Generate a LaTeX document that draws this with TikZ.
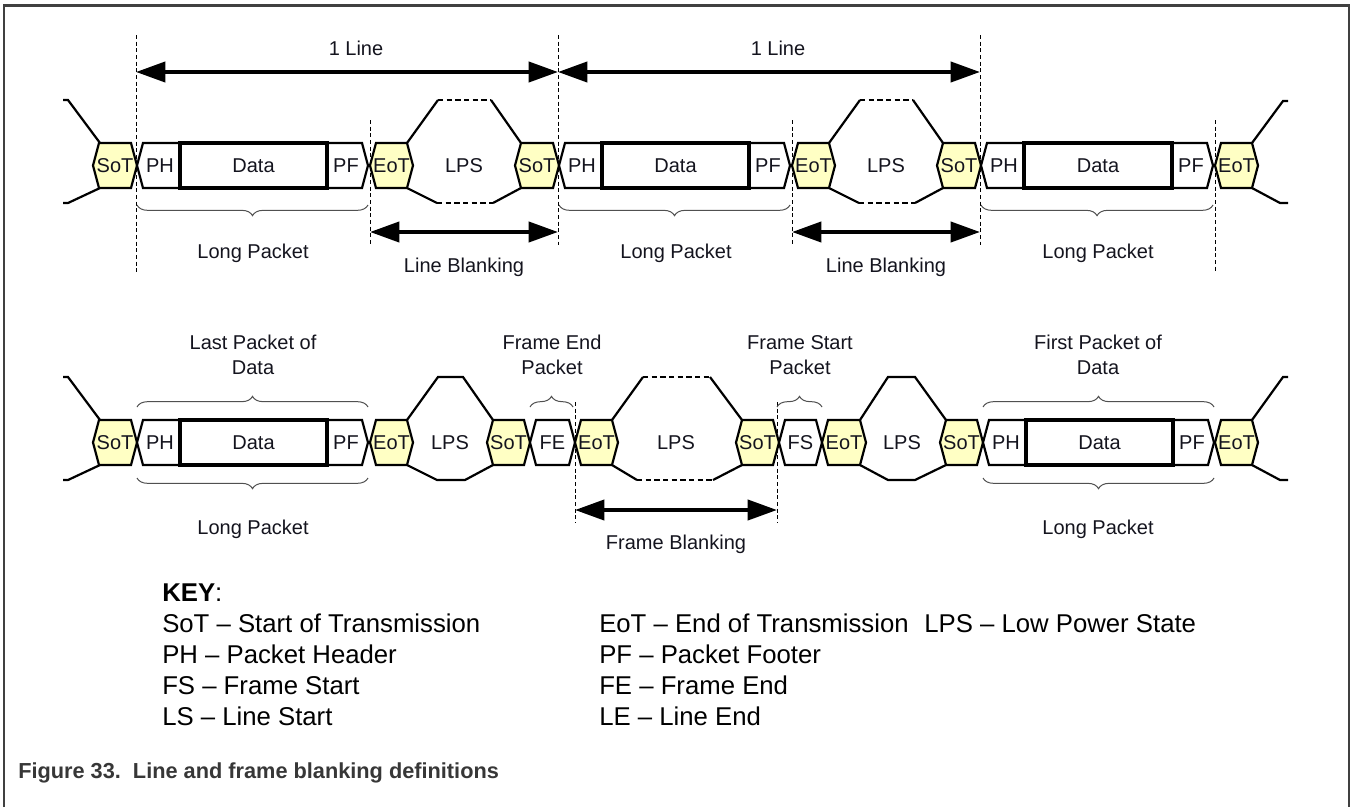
\documentclass[tikz,border=0pt]{standalone}
\usepackage{fontspec}
\setmainfont{Liberation Sans}
\usetikzlibrary{arrows.meta,decorations.pathreplacing}
\definecolor{hexfill}{RGB}{255,255,196}
\definecolor{framegray}{RGB}{64,64,64}
\definecolor{bracegray}{RGB}{80,80,80}
\definecolor{txt}{RGB}{20,20,30}
\definecolor{captxt}{RGB}{55,55,55}
\newcommand{\hexseg}[6]{%
  \draw[hexline,fill=#5] (#2,#4) -- ({#2+6},{#4-22.5}) -- ({#3-6},{#4-22.5}) -- (#3,#4) -- ({#3-6},{#4+22.5}) -- ({#2+6},{#4+22.5}) -- cycle;
  \node[lbl] (#1) at ({(#2+#3)/2},#4) {#6};
}
\newcommand{\pkt}[4]{%
  \draw[hexline,fill=white] (#2,#4) -- ({#2+6},{#4-22.5}) -- ({#3-6},{#4-22.5}) -- (#3,#4) -- ({#3-6},{#4+22.5}) -- ({#2+6},{#4+22.5}) -- cycle;
  \draw[databox] ({#2+43},{#4-22.5}) rectangle ({#3-41},{#4+22.5});
  \node[lbl] (#1ph) at ({#2+23},#4) {PH};
  \node[lbl] (#1data) at ({(#2+#3)/2+1},#4) {Data};
  \node[lbl] (#1pf) at ({#3-22},#4) {PF};
}
\begin{document}
\begin{tikzpicture}[x=0.75pt,y=-0.75pt,
  hexline/.style={line width=1.65pt,line join=miter},
  databox/.style={line width=2.6pt,fill=white},
  lpsdash/.style={dash pattern=on 4pt off 2.5pt},
  vdash/.style={line width=0.75pt,dash pattern=on 3pt off 2pt},
  brc/.style={draw=bracegray,line width=0.75pt,decorate,decoration={brace,amplitude=8pt}},
  dimarrow/.style={line width=3pt,{Triangle[length=22pt,width=15pt]}-{Triangle[length=22pt,width=15pt]}},
  lbl/.style={inner sep=0pt,font=\fontsize{15}{18.75}\selectfont,text=txt},
  twolbl/.style={lbl,align=center},
  keytxt/.style={inner sep=0pt,anchor=base west,font=\fontsize{19.3}{23}\selectfont,text=black},
]
\useasboundingbox (0,0) rectangle (1352,807);
\draw[framegray,line width=1.6pt] (4,807) -- (4,5.5) -- (1349,5.5) -- (1349,807);

\def\yt{165.5}
\def\yb{442.5}

% ---------- dashed guide lines ----------
\coordinate (t1a) at (136,35);   \coordinate (t1b) at (136,272);
\coordinate (t2a) at (370,120);  \coordinate (t2b) at (370,245);
\coordinate (t3a) at (558,35);   \coordinate (t3b) at (558,245);
\coordinate (t4a) at (792,120);  \coordinate (t4b) at (792,245);
\coordinate (t5a) at (980,35);   \coordinate (t5b) at (980,245);
\coordinate (t6a) at (1215,120); \coordinate (t6b) at (1215,272);
\coordinate (b1a) at (575,402);  \coordinate (b1b) at (575,523);
\coordinate (b2a) at (777,402);  \coordinate (b2b) at (777,523);
\foreach \n in {t1,t2,t3,t4,t5,t6,b1,b2} \draw[vdash] (\n a) -- (\n b);

% ---------- top row ----------
\draw[hexline] (63,100) -- (68,100) -- (100,143);
\draw[hexline] (63,203) -- (68,203) -- (100,188);
\foreach \k/\o in {A/0,B/422} {
  \draw[hexline] ({407+\o},143) -- ({438+\o},100);
  \draw[hexline,lpsdash] ({438+\o},100) -- ({491+\o},100);
  \draw[hexline] ({491+\o},100) -- ({521+\o},143);
  \draw[hexline] ({407+\o},188) -- ({437+\o},203);
  \draw[hexline,lpsdash] ({437+\o},203) -- ({493+\o},203);
  \draw[hexline] ({493+\o},203) -- ({521+\o},188);
  \node[lbl] (lps\k) at ({464+\o},\yt) {LPS};
}
\hexseg{sotA}{93}{137}{\yt}{hexfill}{SoT}
\pkt{pA}{137}{368}{\yt}
\hexseg{eotA}{370}{413}{\yt}{hexfill}{EoT}
\hexseg{sotB}{515}{559}{\yt}{hexfill}{SoT}
\pkt{pB}{559}{790}{\yt}
\hexseg{eotB}{792}{835}{\yt}{hexfill}{EoT}
\hexseg{sotC}{937}{981}{\yt}{hexfill}{SoT}
\pkt{pC}{981}{1213}{\yt}
\hexseg{eotC}{1215}{1258}{\yt}{hexfill}{EoT}
\draw[hexline] (1252,143) -- (1283,101) -- (1288,101);
\draw[hexline] (1252,188) -- (1280,203) -- (1288,203);

\draw[brc] (368,205) -- (137,205);
\draw[brc] (790,205) -- (559,205);
\draw[brc] (1213,205) -- (981,205);

\draw[dimarrow] (t1a |- 0,72) -- (t3a |- 0,72);
\draw[dimarrow] (t3a |- 0,72) -- (t5a |- 0,72);
\draw[dimarrow] (t2a |- 0,232) -- (t3a |- 0,232);
\draw[dimarrow] (t4a |- 0,232) -- (t5a |- 0,232);

\node[lbl] (line1) at (356,48) {1 Line};
\node[lbl] (line2) at (778,48) {1 Line};
\node[lbl] (lpk1) at (253,253) {Long Packet};
\node[lbl] (lpk2) at (676,253) {Long Packet};
\node[lbl] (lpk3) at (1098,253) {Long Packet};
\node[lbl] (lb1) at (464,267) {Line Blanking};
\node[lbl] (lb2) at (886,267) {Line Blanking};

% ---------- bottom row ----------
\draw[hexline] (63,377) -- (68,377) -- (100,420);
\draw[hexline] (63,480) -- (68,480) -- (100,465);
% LPS 1 (solid)
\draw[hexline] (407,420) -- (438,377) -- (463,377) -- (493,420);
\draw[hexline] (407,465) -- (437,480) -- (465,480) -- (493,465);
% LPS 2 (dashed top)
\draw[hexline] (612,420) -- (643,377);
\draw[hexline,lpsdash] (643,377) -- (710,377);
\draw[hexline] (710,377) -- (742,420);
\draw[hexline] (612,465) -- (637,480);
\draw[hexline,lpsdash] (637,480) -- (713,480);
\draw[hexline] (713,480) -- (742,465);
% LPS 3 (solid)
\draw[hexline] (860,420) -- (888,377) -- (915,377) -- (946,420);
\draw[hexline] (860,465) -- (888,480) -- (915,480) -- (946,465);
\node[lbl] (lpsD) at (450,\yb) {LPS};
\node[lbl] (lpsE) at (676,\yb) {LPS};
\node[lbl] (lpsF) at (902,\yb) {LPS};

\hexseg{sotD}{93}{137}{\yb}{hexfill}{SoT}
\pkt{pD}{137}{368}{\yb}
\hexseg{eotD}{370}{413}{\yb}{hexfill}{EoT}
\hexseg{sotE}{487}{530}{\yb}{hexfill}{SoT}
\hexseg{fe}{530}{575}{\yb}{white}{FE}
\hexseg{eotE}{575}{618}{\yb}{hexfill}{EoT}
\hexseg{sotF}{736}{779}{\yb}{hexfill}{SoT}
\hexseg{fs}{779}{822}{\yb}{white}{FS}
\hexseg{eotF}{822}{866}{\yb}{hexfill}{EoT}
\hexseg{sotG}{940}{983}{\yb}{hexfill}{SoT}
\pkt{pG}{983}{1214}{\yb}
\hexseg{eotG}{1215}{1258}{\yb}{hexfill}{EoT}
\draw[hexline] (1252,420) -- (1283,377) -- (1288,377);
\draw[hexline] (1252,465) -- (1280,480) -- (1288,480);

\draw[brc] (137,407) -- (368,407);
\draw[brc] (368,478) -- (137,478);
\draw[brc] (530,407) -- (573,407);
\draw[brc] (777,407) -- (822,407);
\draw[brc] (983,407) -- (1214,407);
\draw[brc] (1214,478) -- (983,478);

\draw[dimarrow] (b1a |- 0,510) -- (b2a |- 0,510);

\node[twolbl] (lastpk) at (253,355) {Last Packet of\\Data};
\node[twolbl] (fepk) at (552,355) {Frame End\\Packet};
\node[twolbl] (fspk) at (800,355) {Frame Start\\Packet};
\node[twolbl] (firstpk) at (1098,355) {First Packet of\\Data};
\node[lbl] (lpk4) at (253,529) {Long Packet};
\node[lbl] (lpk5) at (1098,529) {Long Packet};
\node[lbl] (fb) at (676,544) {Frame Blanking};

% ---------- key ----------
\node[keytxt] (key) at (162,601) {\textbf{KEY}:};
\node[keytxt] (k1) at (162,632) {SoT – Start of Transmission};
\node[keytxt] (k2) at (162,663) {PH – Packet Header};
\node[keytxt] (k3) at (162,694) {FS – Frame Start};
\node[keytxt] (k4) at (162,725) {LS – Line Start};
\node[keytxt] (k5) at (599,632) {EoT – End of Transmission};
\node[keytxt] (k6) at (599,663) {PF – Packet Footer};
\node[keytxt] (k7) at (599,694) {FE – Frame End};
\node[keytxt] (k8) at (599,725) {LE – Line End};
\node[keytxt] (k9) at (924,632) {LPS – Low Power State};

% ---------- caption ----------
\node[inner sep=0pt,anchor=base west,font=\fontsize{16.3}{19}\selectfont\bfseries,text=captxt] (cap) at (18,778) {Figure 33.\ \ Line and frame blanking definitions};
\end{tikzpicture}
\end{document}
